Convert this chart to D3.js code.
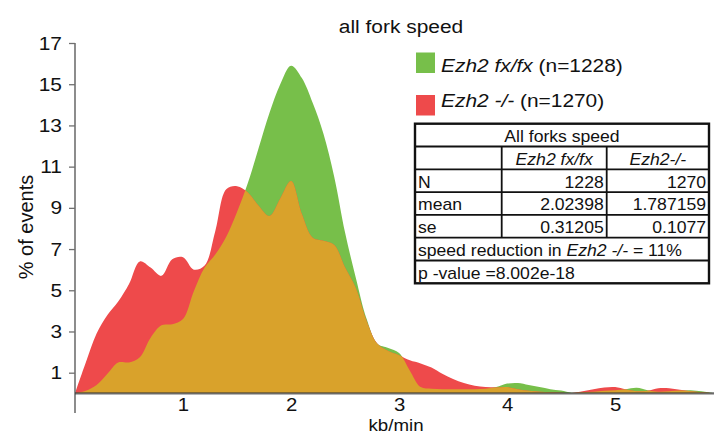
<!DOCTYPE html>
<html>
<head>
<meta charset="utf-8">
<script src="https://cdn.jsdelivr.net/npm/d3@7"></script>
<style>
  body { margin: 0; background: #fff; }
  svg { display: block; font-family: "Liberation Sans", Arial, sans-serif; }
</style>
</head>
<body>
<svg id="chart" width="714" height="435"></svg>
<script>
// Fork speed bins (kb/min)
const speeds = [0.0, 0.1, 0.2, 0.3, 0.4, 0.5, 0.6, 0.7, 0.8, 0.9,
                1.0, 1.1, 1.2, 1.3, 1.4, 1.5, 1.6, 1.7, 1.8, 1.9,
                2.0, 2.1, 2.2, 2.3, 2.4, 2.5, 2.6, 2.7, 2.8, 2.9,
                3.0, 3.1, 3.2, 3.3, 3.4, 3.5, 3.6, 3.7, 3.8, 3.9,
                4.0, 4.1, 4.2, 4.3, 4.4, 4.5, 4.6, 4.7, 4.8, 4.9,
                5.0, 5.1, 5.2, 5.3, 5.4, 5.5, 5.6, 5.7, 5.8, 5.9];

// % of events, Ezh2 fx/fx
const fxfx = [0.0, 0.12, 0.4, 0.95, 1.5, 1.5, 1.75, 2.7, 3.3, 3.35,
              3.6, 4.95, 6.1, 6.75, 7.6, 8.8, 10.2, 11.9, 13.6, 15.0,
              15.9, 15.3, 14.1, 12.6, 10.5, 7.8, 5.6, 3.6, 2.4, 2.2,
              1.95, 1.1, 0.3, 0.22, 0.2, 0.2, 0.2, 0.2, 0.22, 0.3,
              0.47, 0.5, 0.4, 0.3, 0.2, 0.13, 0.03, 0.05, 0.08, 0.12,
              0.15, 0.2, 0.27, 0.15, 0.08, 0.1, 0.13, 0.15, 0.1, 0.02];

// % of events, Ezh2 -/-
const knockout = [0.0, 1.5, 2.9, 3.8, 4.45, 5.3, 6.4, 6.1, 5.7, 6.5,
                  6.6, 6.0, 6.2, 7.9, 9.9, 10.05, 9.75, 9.1, 8.6, 9.45,
                  10.3, 8.7, 7.55, 7.4, 7.2, 6.1, 5.1, 3.5, 2.4, 2.05,
                  1.85, 1.6, 1.45, 1.25, 0.95, 0.7, 0.5, 0.37, 0.3, 0.28,
                  0.3, 0.2, 0.12, 0.08, 0.05, 0.03, 0.02, 0.1, 0.2, 0.28,
                  0.3, 0.18, 0.1, 0.12, 0.25, 0.25, 0.17, 0.1, 0.05, 0.01];

const yTicks = [1, 3, 5, 7, 9, 11, 13, 15, 17];
const xTicks = [1, 2, 3, 4, 5];

const legendItems = [
  { name: "Ezh2 fx/fx", extra: " (n=1228)", color: "#77bf4a" },
  { name: "Ezh2 -/-",   extra: " (n=1270)", color: "#ee4a4b" }
];
const overlapColor = "#d9a22b";

const tableTitle = "All forks speed";
const tableHeader = ["", "Ezh2 fx/fx", "Ezh2-/-"];
const tableRows = [
  ["N", "1228", "1270"],
  ["mean", "2.02398", "1.787159"],
  ["se", "0.31205", "0.1077"]
];
const reductionParts = [["speed reduction in ", false], ["Ezh2 -/-", true], [" = 11%", false]];
const pValueText = "p -value =8.002e-18";

const svg = d3.select("#chart");
const SX = 1.1; // horizontal glyph stretch used for the labels

const x = d3.scaleLinear().domain([0, 5.92]).range([75, 714.5]);
const y = d3.scaleLinear().domain([0, 17]).range([393.3, 43]);

// Text helper: parts = [[string, italic], ...]
function label(parent, px, py, parts, size, anchor) {
  const t = parent.append("text")
    .attr("transform", `translate(${px},${py}) scale(${SX},1)`)
    .attr("font-size", size)
    .attr("text-anchor", anchor || "start")
    .attr("fill", "#111");
  parts.forEach(([s, it]) => t.append("tspan").text(s).attr("font-style", it ? "italic" : null));
  return t;
}

// ---- distribution areas ----
const pts = s => speeds.map((v, i) => [v, s[i]]);
const area = d3.area()
  .x(d => x(d[0]))
  .y0(y(0))
  .y1(d => y(d[1]))
  .curve(d3.curveCatmullRom.alpha(0.5));

svg.append("clipPath").attr("id", "plotClip")
  .append("rect").attr("x", 75).attr("y", 0).attr("width", 640).attr("height", y(0));
const defs = svg.append("defs");
defs.append("clipPath").attr("id", "koClip")
  .append("path").attr("d", area(pts(knockout)));

const plot = svg.append("g").attr("clip-path", "url(#plotClip)");
plot.append("path").attr("d", area(pts(fxfx))).attr("fill", legendItems[0].color);
plot.append("path").attr("d", area(pts(knockout))).attr("fill", legendItems[1].color);
// overlap of both distributions
plot.append("path").attr("d", area(pts(fxfx))).attr("fill", overlapColor)
  .attr("clip-path", "url(#koClip)");

// ---- axes ----
const axisColor = "#707070";
const yAxis = svg.append("g").attr("transform", "translate(75,0)")
  .call(d3.axisLeft(y).tickValues(yTicks).tickSize(6).tickSizeOuter(0).tickPadding(5.8));
yAxis.select(".domain").remove();
yAxis.selectAll(".tick line").attr("stroke", axisColor).attr("stroke-width", 1.3);
yAxis.selectAll(".tick text")
  .attr("font-size", 19).attr("font-family", null).attr("fill", "#111")
  .attr("transform", `scale(${SX},1)`)
  .attr("x", -13 / SX);

svg.append("line")
  .attr("x1", 75).attr("x2", 75).attr("y1", y(17)).attr("y2", 413)
  .attr("stroke", axisColor).attr("stroke-width", 1.6);

const xAxis = svg.append("g").attr("transform", `translate(0,${y(0)})`)
  .call(d3.axisBottom(x).tickValues(xTicks).tickFormat(d3.format("d"))
    .tickSize(0).tickPadding(4.5));
xAxis.select(".domain").remove();
xAxis.selectAll(".tick text")
  .attr("font-size", 18.5).attr("font-family", null).attr("fill", "#111")
  .attr("transform", `scale(${SX},1)`)
  .attr("x", 0);

svg.append("line")
  .attr("x1", 75).attr("x2", 714).attr("y1", y(0)).attr("y2", y(0))
  .attr("stroke", "rgba(60,60,60,0.75)").attr("stroke-width", 2.2);

// ---- titles ----
label(svg, 401, 33, [["all fork speed", false]], 19, "middle");
label(svg, 396, 431, [["kb/min", false]], 17, "middle");
svg.append("text")
  .attr("transform", "translate(33,227) rotate(-90)")
  .attr("font-size", 20).attr("text-anchor", "middle").attr("fill", "#111")
  .text("% of events");

// ---- legend ----
const legendY = [52.5, 95];
const legendBase = [71.5, 106.5];
legendItems.forEach((it, i) => {
  svg.append("rect").attr("x", 416).attr("y", legendY[i]).attr("width", 19).attr("height", 20.5)
    .attr("fill", it.color);
  label(svg, 441, legendBase[i], [[it.name, true], [it.extra, false]], 19);
});

// ---- statistics table ----
const tg = svg.append("g");
const colX = [415, 501.7, 606.7, 709];
const rowTop = 123.7, rowH = 22.8, nRows = 7;
const fs = 16;
const rowY = i => rowTop + i * rowH;

tg.append("rect").attr("x", colX[0]).attr("y", rowTop)
  .attr("width", colX[3] - colX[0]).attr("height", nRows * rowH)
  .attr("fill", "#fff");

// title row
label(tg, (colX[0] + colX[3]) / 2, rowY(0) + 18, [[tableTitle, false]], fs, "middle");
// header row
tableHeader.forEach((h, j) => {
  if (!h) return;
  label(tg, (colX[j] + colX[j + 1]) / 2, rowY(1) + 18, [[h, true]], fs, "middle");
});
// value rows
tableRows.forEach((r, i) => {
  const ry = rowY(2 + i) + 18.3;
  label(tg, colX[0] + 3, ry, [[r[0], false]], fs, "start");
  label(tg, colX[2] - 3, ry, [[r[1], false]], fs, "end");
  label(tg, colX[3] - 3, ry, [[r[2], false]], fs, "end");
});
label(tg, colX[0] + 3, rowY(5) + 18.3, reductionParts, fs, "start");
label(tg, colX[0] + 3, rowY(6) + 18.3, [[pValueText, false]], fs, "start");

// grid lines
for (let i = 1; i < nRows; i++) {
  tg.append("line").attr("x1", colX[0]).attr("x2", colX[3])
    .attr("y1", rowY(i)).attr("y2", rowY(i))
    .attr("stroke", "#111").attr("stroke-width", 1.8);
}
[1, 2].forEach(j => {
  tg.append("line").attr("x1", colX[j]).attr("x2", colX[j])
    .attr("y1", rowY(1)).attr("y2", rowY(5))
    .attr("stroke", "#111").attr("stroke-width", 1.8);
});
tg.append("rect").attr("x", colX[0]).attr("y", rowTop)
  .attr("width", colX[3] - colX[0]).attr("height", nRows * rowH)
  .attr("fill", "none").attr("stroke", "#111").attr("stroke-width", 2.4);
</script>
</body>
</html>
